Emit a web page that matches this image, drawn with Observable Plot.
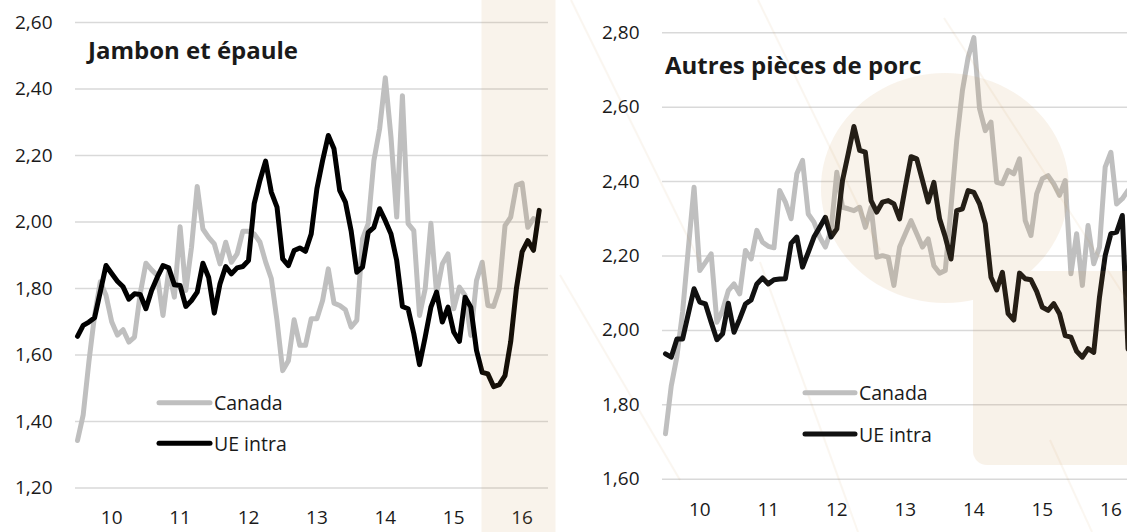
<!DOCTYPE html>
<html><head><meta charset="utf-8">
<script src="https://cdn.jsdelivr.net/npm/d3@7"></script>
<script src="https://cdn.jsdelivr.net/npm/@observablehq/plot@0.6"></script>
<style>
html,body{margin:0;padding:0;background:#fff;}
body{width:1127px;height:532px;overflow:hidden;position:relative;font-family:"Open Sans",sans-serif;}
#left{position:absolute;left:0;top:0;width:560px;height:532px;}
#right{position:absolute;left:560px;top:0;width:577px;height:532px;}
#left svg,#right svg{max-width:none !important;}
#overlay{position:absolute;left:0;top:0;pointer-events:none;}
#overlay text{font-family:"Open Sans",sans-serif;fill:#1a1a1a;}
</style></head><body>
<div id="left"></div><div id="right"></div>
<svg id="overlay" width="1127" height="532">
  <g opacity="0.07" stroke="#c88a3e" stroke-width="2" fill="none">
    <line x1="571" y1="0" x2="700" y2="262"/>
    <line x1="560" y1="275" x2="680" y2="480"/>
    <line x1="758" y1="0" x2="880" y2="250"/>
    <line x1="760" y1="262" x2="858" y2="532"/>
    <line x1="944" y1="18" x2="1127" y2="300"/>
    <line x1="1050" y1="440" x2="1092" y2="532"/>
  </g>
  <text x="88" y="59" font-size="24" font-weight="700">Jambon et épaule</text>
  <text x="665" y="74" font-size="24" font-weight="700">Autres pièces de porc</text>
  <g stroke-width="5" stroke-linecap="round">
    <line x1="159" y1="402.7" x2="210" y2="402.7" stroke="#BFBFBF"/>
    <line x1="159" y1="443.3" x2="210" y2="443.3" stroke="#000"/>
    <line x1="805" y1="392.7" x2="855" y2="392.7" stroke="#BFBFBF"/>
    <line x1="805" y1="434" x2="855" y2="434" stroke="#111"/>
  </g>
  <text x="214" y="409.5" font-size="19.5">Canada</text>
  <text x="214" y="450.5" font-size="19.5">UE intra</text>
  <text x="859" y="400" font-size="19.5">Canada</text>
  <text x="859" y="441.5" font-size="19.5">UE intra</text>
  <g opacity="0.105" fill="#c88a3e">
    <rect x="481.5" y="0" width="74" height="532"/>
    <path d="M945,73 A124,115 0 1 1 944.9,73 Z"/>
    <rect x="973" y="271" width="220" height="194" rx="14"/>
  </g>
</svg>
<script>
// Monthly export prices, Jan 2010 -> Oct 2016 (index 0 = Jan 2010)
const xTickPos = [6, 18, 30, 42, 54, 66, 78];
const xTickLabels = ["10", "11", "12", "13", "14", "15", "16"];

const leftYTicks = [1.2, 1.4, 1.6, 1.8, 2.0, 2.2, 2.4, 2.6];
const rightYTicks = [1.6, 1.8, 2.0, 2.2, 2.4, 2.6, 2.8];

const leftCanada = [1.343,1.42,1.58,1.72,1.82,1.78,1.70,1.66,1.676,1.639,
 1.654,1.784,1.876,1.856,1.839,1.719,1.854,1.774,1.986,1.794,
 1.924,2.107,1.979,1.954,1.934,1.874,1.939,1.879,1.904,1.972,
 1.972,1.964,1.94,1.88,1.83,1.704,1.553,1.583,1.706,1.629,
 1.629,1.709,1.709,1.764,1.859,1.756,1.749,1.736,1.684,1.704,
 1.949,1.995,2.185,2.280,2.434,2.255,2.015,2.380,1.995,1.974,
 1.719,1.799,1.996,1.784,1.874,1.904,1.739,1.804,1.779,1.659,
 1.824,1.879,1.749,1.746,1.799,1.989,2.015,2.110,2.117,1.984,
 2.010];

const leftUE = [1.656,1.689,1.699,1.712,1.79,1.869,1.845,1.822,1.805,1.768,
 1.784,1.782,1.739,1.794,1.834,1.869,1.862,1.811,1.809,1.746,
 1.764,1.789,1.876,1.834,1.726,1.814,1.866,1.844,1.862,1.866,
 1.884,2.055,2.125,2.183,2.090,2.045,1.889,1.869,1.914,1.922,
 1.912,1.964,2.100,2.185,2.260,2.220,2.095,2.060,1.974,1.849,
 1.864,1.969,1.984,2.040,2.004,1.964,1.884,1.746,1.739,1.664,
 1.571,1.654,1.744,1.789,1.699,1.744,1.669,1.641,1.774,1.744,
 1.614,1.548,1.543,1.505,1.511,1.538,1.64,1.80,1.91,1.944,
 1.915,2.035];

const rightCanada = [1.722,1.85,1.93,2.05,2.22,2.385,2.161,2.183,2.206,2.022,
 2.054,2.107,2.125,2.098,2.215,2.192,2.269,2.237,2.226,2.222,
 2.376,2.345,2.300,2.421,2.457,2.313,2.291,2.251,2.224,2.27,
 2.425,2.331,2.327,2.322,2.331,2.277,2.331,2.197,2.201,2.197,
 2.121,2.224,2.260,2.295,2.260,2.224,2.246,2.174,2.154,2.161,
 2.331,2.510,2.645,2.734,2.787,2.596,2.537,2.560,2.398,2.394,
 2.430,2.421,2.461,2.295,2.255,2.367,2.408,2.416,2.394,2.363,
 2.403,2.152,2.260,2.121,2.282,2.179,2.224,2.439,2.479,2.340,
 2.354,2.376];

const rightUE = [1.937,1.928,1.977,1.977,2.045,2.112,2.076,2.071,2.022,1.975,
 1.991,2.073,1.995,2.031,2.071,2.082,2.125,2.141,2.125,2.136,
 2.138,2.139,2.234,2.251,2.170,2.210,2.251,2.277,2.304,2.251,
 2.273,2.403,2.475,2.548,2.484,2.479,2.349,2.318,2.345,2.349,
 2.340,2.300,2.385,2.467,2.461,2.403,2.345,2.398,2.300,2.251,
 2.192,2.322,2.327,2.376,2.371,2.340,2.287,2.143,2.109,2.156,
 2.045,2.028,2.154,2.139,2.136,2.105,2.062,2.054,2.072,2.045,
 1.986,1.982,1.944,1.928,1.951,1.941,2.089,2.201,2.260,2.264,
 2.309,1.95];

const fmt = d => d.toFixed(2).replace(".", ",");

function panel(o) {
  const cData = o.canada.map((v, i) => ({i, v}));
  const uData = o.ue.map((v, i) => ({i, v}));
  return Plot.plot({
    width: o.width, height: 532,
    marginLeft: o.marginLeft, marginRight: o.marginRight,
    marginTop: o.marginTop, marginBottom: o.marginBottom,
    style: {fontFamily: "Open Sans", fontSize: "19px", color: "#1a1a1a", background: "transparent", overflow: "visible", maxWidth: "none"},
    x: {domain: o.xDomain, label: null},
    y: {domain: [o.yTicks[0], o.yTicks[o.yTicks.length - 1]], label: null},
    marks: [
      Plot.ruleY(o.yTicks, {stroke: "#d9d9d9", strokeWidth: 1.5}),
      Plot.axisY({ticks: o.yTicks, tickSize: 0, tickPadding: 23, tickFormat: fmt, fontSize: 19}),
      Plot.axisX({ticks: xTickPos, tickSize: 0, tickPadding: o.xPad, fontSize: 19,
        tickFormat: d => xTickLabels[xTickPos.indexOf(d)]}),
      Plot.line(cData, {x: "i", y: "v", stroke: "#BFBFBF", strokeWidth: 5, strokeLinejoin: "round"}),
      Plot.line(uData, {x: "i", y: "v", stroke: o.ueColor, strokeWidth: 5, strokeLinejoin: "round"})
    ]
  });
}

document.getElementById("left").append(panel({
  canada: leftCanada, ue: leftUE, yTicks: leftYTicks,
  width: 560, marginLeft: 75, marginRight: 12, marginTop: 22, marginBottom: 44.5,
  xDomain: [-0.35, 82.63], xPad: 22, ueColor: "#000"
}));
document.getElementById("right").append(panel({
  canada: rightCanada, ue: rightUE, yTicks: rightYTicks,
  width: 577, marginLeft: 102, marginRight: 0, marginTop: 32.3, marginBottom: 53.3,
  xDomain: [-0.525, 82.66], xPad: 23, ueColor: "#111"
}));
</script>
</body></html>
